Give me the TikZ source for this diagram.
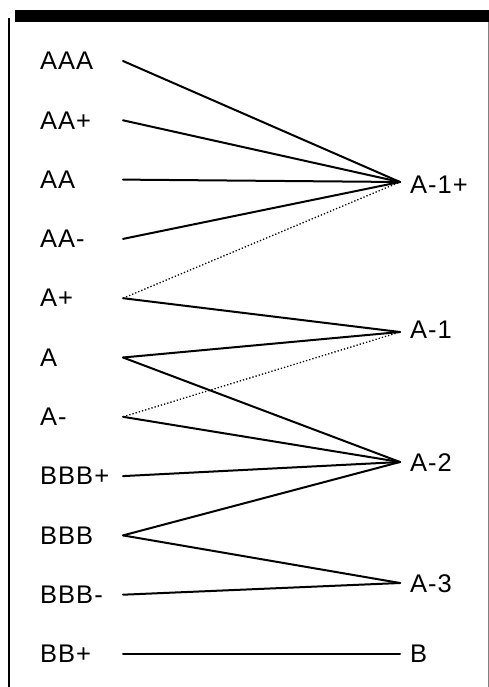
\documentclass[tikz,border=0pt]{standalone}
\usepackage{fontspec}
\setmainfont{Liberation Sans}[LetterSpace=4]

\begin{document}
\begin{tikzpicture}[
            x=1pt, y=-1pt,
            rating/.style={anchor=west, inner sep=0pt, text=black,
            font=\fontsize{25.5}{25.5}\selectfont},
            link/.style={line width=2pt, line cap=round},
            weak link/.style={dotted, line width=1.3pt},
            frame line/.style={line width=2pt}
            ]
            \useasboundingbox (0,0) rectangle (489,687);

            % frame
            \fill (15,10) rectangle (489,22);
            \draw[frame line] (9,18) -- (9,687);
            \draw[gray, thin] (488,22) -- (488,687);

            % long term ratings
            \node(AAA)[rating]  at (40, 61.0) {AAA};
            \node(AAp)[rating]  at (40,120.3) {AA+};
            \node(AA)[rating]   at (40,179.6) {AA};
            \node(AAm)[rating]  at (40,238.9) {AA-};
            \node(Ap)[rating]   at (40,298.2) {A+};
            \node(A)[rating]    at (40,357.5) {A};
            \node(Am)[rating]   at (40,416.8) {A-};
            \node(BBBp)[rating] at (40,476.1) {BBB+};
            \node(BBB)[rating]  at (40,535.4) {BBB};
            \node(BBBm)[rating] at (40,594.7) {BBB-};
            \node(BBp)[rating]  at (40,654.0) {BB+};

            \coordinate (pAAA)  at (123, 61.0);
            \coordinate (pAAp)  at (123,120.3);
            \coordinate (pAA)   at (123,179.6);
            \coordinate (pAAm)  at (123,238.9);
            \coordinate (pAp)   at (123,298.2);
            \coordinate (pA)    at (123,357.5);
            \coordinate (pAm)   at (123,416.8);
            \coordinate (pBBBp) at (123,476.1);
            \coordinate (pBBB)  at (123,535.4);
            \coordinate (pBBBm) at (123,594.7);
            \coordinate (pBBp)  at (123,654.0);

            % short term ratings
            \node(A1p)[rating] at (410,185) {A-1+};
            \node(A1)[rating]  at (410,330) {A-1};
            \node(A2)[rating]  at (410,463) {A-2};
            \node(A3)[rating]  at (410,584) {A-3};
            \node(B)[rating]   at (410,654) {B};

            \coordinate (qA1p) at (400,182);
            \coordinate (qA1)  at (400,332);
            \coordinate (qA2)  at (400,462);
            \coordinate (qA3)  at (400,583);
            \coordinate (qB)   at (400,654);

            % links
            \draw[link] (pAAA) -- (qA1p);
            \draw[link] (pAAp) -- (qA1p);
            \draw[link] (pAA) -- (qA1p);
            \draw[link] (pAAm) -- (qA1p);
            \draw[weak link] (pAp) -- (qA1p);

            \draw[link] (pAp) -- (qA1);
            \draw[link] (pA) -- (qA1);
            \draw[weak link] (pAm) -- (qA1);

            \draw[link] (pA) -- (qA2);
            \draw[link] (pAm) -- (qA2);
            \draw[link] (pBBBp) -- (qA2);
            \draw[link] (pBBB) -- (qA2);

            \draw[link] (pBBB) -- (qA3);
            \draw[link] (pBBBm) -- (qA3);

            \draw[link] (pBBp) -- (qB);

        \end{tikzpicture}
\end{document}
